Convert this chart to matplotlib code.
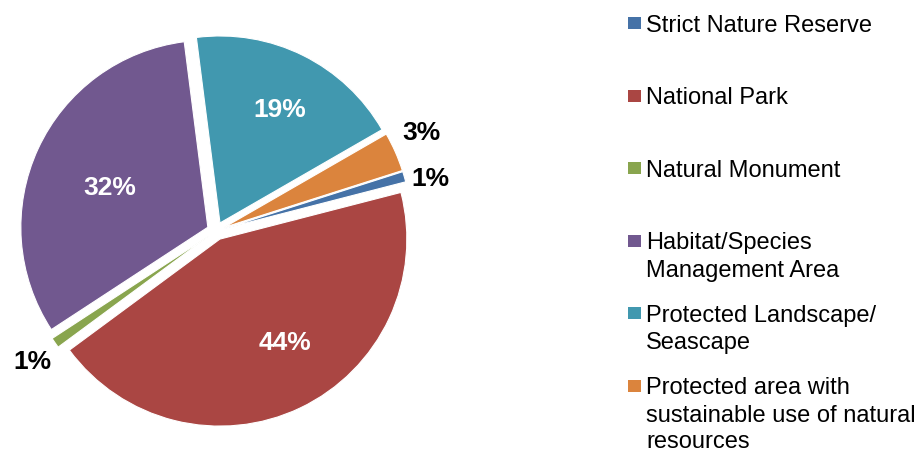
import numpy as np
import matplotlib
matplotlib.use('Agg')
import matplotlib.pyplot as plt
from matplotlib.patches import Rectangle

plt.rcParams['font.family'] = ['Liberation Sans', 'DejaVu Sans']

# share of protected area by IUCN category (percent)
categories = ['Strict Nature Reserve', 'National Park', 'Natural Monument',
              'Habitat/Species\nManagement Area', 'Protected Landscape/\nSeascape',
              'Protected area with\nsustainable use of natural\nresources']
shares = [0.9, 43.9, 0.9, 32.2, 18.7, 3.4]
colors = ['#4572A7', '#AA4643', '#89A54E', '#71588F', '#4198AF', '#DB843D']

# label placement (relative to each wedge), style only
label_dist = [1.134, 0.656, 1.16, 0.564, 0.684, 1.169]
label_nudge = [-2.7, 6.6, 0.8, 3.1, -1.7, 1.7]
label_color = ['black', 'white', 'black', 'white', 'white', 'black']

W, H = 922, 454
fig = plt.figure(figsize=(W / 100, H / 100), dpi=100)

R = 187.0          # pie radius in pixels
cx, cy = 216, 231  # pie centre, pixels from top-left
half = 210
ax = fig.add_axes([(cx - half) / W, (H - cy - half) / H, 2 * half / W, 2 * half / H])

wedges, texts, autotexts = ax.pie(shares, colors=colors, startangle=17.7, counterclock=False,
                                  explode=[0.048] * len(shares), autopct='%.0f%%',
                                  wedgeprops=dict(edgecolor='white', linewidth=0.8))
ax.set_xlim(-half / R, half / R)
ax.set_ylim(-half / R, half / R)

for i, (w, t) in enumerate(zip(wedges, autotexts)):
    th = np.deg2rad((w.theta1 + w.theta2) / 2 + label_nudge[i])
    x0, y0 = w.center
    t.set_position((x0 + label_dist[i] * np.cos(th), y0 + label_dist[i] * np.sin(th)))
    t.set_color(label_color[i])
    t.set_fontsize(19)
    t.set_fontweight('bold')
    t.set_ha('center')
    t.set_va('center')

# legend drawn by hand so the entries keep the uneven multi-line layout
leg_x = 646
first_base = 32
step = 72.5
line_h = 27
for i, (name, col) in enumerate(zip(categories, colors)):
    base = first_base + step * i
    fig.add_artist(Rectangle((628 / W, 1 - (base - 2.7) / H), 13 / W, 12 / H,
                             transform=fig.transFigure, facecolor=col, edgecolor='none'))
    for j, line in enumerate(name.split('\n')):
        fig.text(leg_x / W, 1 - (base + line_h * j) / H, line, fontsize=17,
                 ha='left', va='baseline', color='black')

fig.savefig('out.png', dpi=100)
